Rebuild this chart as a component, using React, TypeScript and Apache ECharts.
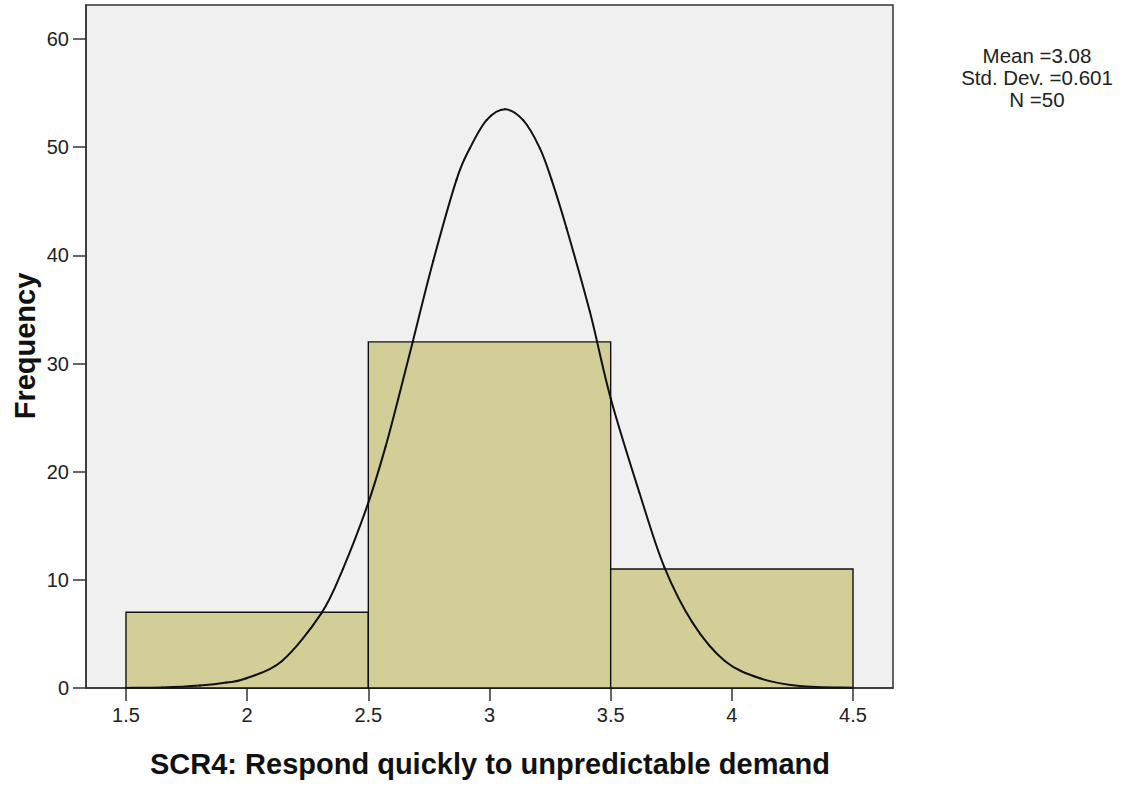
import React, { useEffect, useRef } from "react";
import * as echarts from "echarts";

// Histogram bins
const binStarts = [1.5, 2.5, 3.5];
const binEnds = [2.5, 3.5, 4.5];
const frequencies = [7, 32, 11];

// Normal curve points
const curveX = [1.5, 1.65, 1.805, 1.915, 1.997, 2.144, 2.306, 2.395, 2.498, 2.571, 2.623, 2.683, 2.768, 2.864, 2.919, 2.988, 3.064, 3.139, 3.208, 3.256, 3.318, 3.414, 3.5, 3.618, 3.721, 3.839, 3.971, 4.116, 4.28, 4.5];
const curveY = [0.01, 0.04, 0.22, 0.5, 0.9, 2.5, 6.9, 11.0, 17.0, 22.3, 26.7, 32.0, 39.5, 47.0, 49.9, 52.5, 53.5, 52.5, 49.9, 47.0, 42.5, 34.8, 26.8, 18.1, 11.2, 6.0, 2.5, 0.9, 0.19, 0.02];

const xTicks = [1.5, 2, 2.5, 3, 3.5, 4, 4.5];
const yTicks = [0, 10, 20, 30, 40, 50, 60];

const statsLines = ["Mean =3.08", "Std. Dev. =0.601", "N =50"];
const xTitle = "SCR4: Respond quickly to unpredictable demand";
const yTitle = "Frequency";

const FONT = '"Liberation Sans", Arial, sans-serif';

export default function App() {
  const ref = useRef<HTMLDivElement>(null);
  useEffect(() => {
    if (!ref.current) return;
    const chart = echarts.init(ref.current, null, { renderer: "svg" });
    const barData = binStarts.map((s, i) => [s, binEnds[i], frequencies[i]]);
    const lineData = curveX.map((x, i) => [x, curveY[i]]);
    const n = curveX.length;
    chart.setOption({
      animation: false,
      textStyle: { fontFamily: FONT },
      grid: {
        left: 86,
        top: 5,
        right: 232,
        bottom: 98,
        show: true,
        backgroundColor: "#f0f0f0",
        borderColor: "#333",
        borderWidth: 1.5,
      },
      xAxis: {
        type: "value",
        min: 1.335,
        max: 4.665,
        axisLine: { show: true, onZero: false, lineStyle: { color: "#333", width: 1.5 } },
        axisTick: { show: true, length: 13, customValues: xTicks, lineStyle: { color: "#333", width: 1.5 } },
        axisLabel: { customValues: xTicks, margin: 17, fontSize: 20, color: "#222", fontFamily: FONT },
        splitLine: { show: false },
      },
      yAxis: {
        type: "value",
        min: 0,
        max: 63.15,
        axisLine: { show: true, lineStyle: { color: "#333", width: 1.5 } },
        axisTick: { show: true, length: 13, customValues: yTicks, lineStyle: { color: "#333", width: 1.5 } },
        axisLabel: { customValues: yTicks, margin: 17, fontSize: 20, color: "#222", fontFamily: FONT },
        splitLine: { show: false },
      },
      series: [
        {
          type: "custom",
          data: barData,
          encode: { x: [0, 1], y: 2 },
          renderItem: (params: any, api: any) => {
            const x0 = api.value(0);
            const x1 = api.value(1);
            const y = api.value(2);
            const p0 = api.coord([x0, y]);
            const p1 = api.coord([x1, 0]);
            return {
              type: "rect",
              shape: { x: p0[0], y: p0[1], width: p1[0] - p0[0], height: p1[1] - p0[1] },
              style: { fill: "#d3ce97", stroke: "#111", lineWidth: 1.4 },
            };
          },
          z: 2,
        },
        {
          type: "custom",
          data: lineData,
          encode: { x: 0, y: 1 },
          clip: true,
          renderItem: (params: any, api: any) => {
            const i = params.dataIndex;
            if (i >= n - 1) return null;
            const pt = (j: number) => {
              const k = Math.max(0, Math.min(n - 1, j));
              return api.coord([lineData[k][0], lineData[k][1]]);
            };
            const P0 = pt(i - 1);
            const P1 = pt(i);
            const P2 = pt(i + 1);
            const P3 = pt(i + 2);
            return {
              type: "bezierCurve",
              shape: {
                x1: P1[0],
                y1: P1[1],
                x2: P2[0],
                y2: P2[1],
                cpx1: P1[0] + (P2[0] - P0[0]) / 6,
                cpy1: P1[1] + (P2[1] - P0[1]) / 6,
                cpx2: P2[0] - (P3[0] - P1[0]) / 6,
                cpy2: P2[1] - (P3[1] - P1[1]) / 6,
              },
              style: { stroke: "#111", lineWidth: 2, fill: null, lineCap: "round" },
            };
          },
          z: 3,
        },
      ],
      graphic: [
        {
          type: "text",
          x: 1037,
          y: 44,
          style: {
            text: statsLines.join("\n"),
            fontSize: 20.5,
            lineHeight: 22,
            fontFamily: FONT,
            fill: "#222",
            align: "center",
            verticalAlign: "top",
          },
        },
        {
          type: "text",
          x: 490,
          y: 764,
          style: {
            text: xTitle,
            fontSize: 29,
            fontWeight: "bold",
            fontFamily: FONT,
            fill: "#111",
            align: "center",
            verticalAlign: "middle",
          },
        },
        {
          type: "text",
          x: 25,
          y: 346,
          rotation: Math.PI / 2,
          style: {
            text: yTitle,
            fontSize: 29,
            fontWeight: "bold",
            fontFamily: FONT,
            fill: "#111",
            align: "center",
            verticalAlign: "middle",
          },
        },
      ],
    });
    return () => chart.dispose();
  }, []);
  return (
    <div
      ref={ref}
      style={{ position: "fixed", left: 0, top: 0, width: 1125, height: 786, background: "#fff" }}
    />
  );
}
